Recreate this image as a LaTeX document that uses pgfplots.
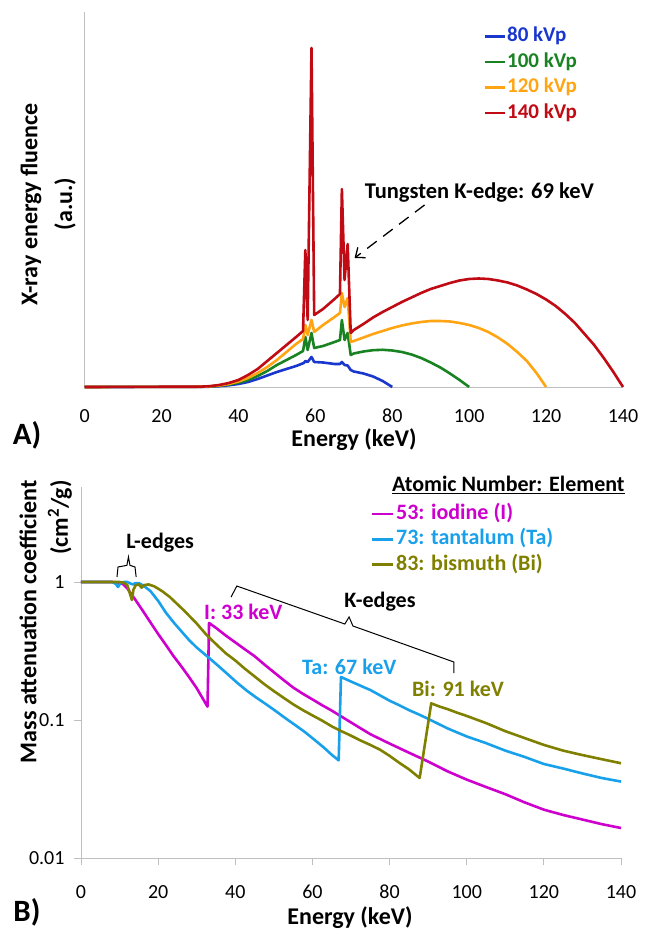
\documentclass[border=0pt]{standalone}
\usepackage{pgfplots}
\pgfplotsset{compat=1.18}
\usepackage{fontspec}
\setmainfont{Carlito}
\usetikzlibrary{arrows.meta}
\definecolor{c80}{RGB}{25,55,205}
\definecolor{c100}{RGB}{25,130,35}
\definecolor{c120}{RGB}{255,165,20}
\definecolor{c140}{RGB}{192,10,20}
\definecolor{cI}{RGB}{205,0,205}
\definecolor{cTa}{RGB}{25,160,235}
\definecolor{cBi}{RGB}{128,128,0}
\definecolor{axgray}{RGB}{191,191,191}
\newcommand{\lab}{\bfseries\fontsize{24}{28}\selectfont}
\newcommand{\ann}{\bfseries\fontsize{22}{26}\selectfont}
\begin{document}
\begin{tikzpicture}[x=1pt,y=1pt]
\useasboundingbox (0,0) rectangle (645,934);
% ---------------- Panel A ----------------
\begin{axis}[
  at={(84.6pt,547pt)}, anchor=south west,
  width=538.4pt, height=375pt, scale only axis,
  xmin=0, xmax=140, ymin=0, ymax=375,
  axis x line*=bottom, axis y line*=left,
  axis line style={axgray, line width=0.8pt},
  xtick={0,20,...,140}, ytick=\empty,
  major tick length=0pt,
  /pgf/number format/assume math mode=true,
  xticklabel style={font=\fontsize{20}{24}\selectfont, anchor=base, yshift=-36pt},
  clip=false,
  every axis plot/.append style={line width=2.6pt, line join=round, mark=none},
  legend style={at={(0.74,0.97)}, anchor=north west, draw=none, fill=none,
    inner sep=0pt, font=\bfseries\fontsize{21}{25}\selectfont,
    nodes={text height=17pt, text depth=6pt, inner sep=1.3pt}, row sep=0pt},
  legend cell align=left,
  legend image code/.code={\draw[#1, line width=2.6pt] (0pt,0pt) -- (20pt,0pt);},
]
\addplot[c80] coordinates {(0,0) (30,0.1) (32.5,0.3) (35,0.8) (37.5,1.7) (40,3) (42.5,5) (45,8) (47.5,11.5) (50,15) (52.5,18) (55,21) (57,24) (57.4,26) (58,25) (59,30) (59.7,25) (62,24.5) (65,23) (66.4,23) (66.9,25) (67.6,22) (68.4,21.5) (69.2,17) (70,15.5) (72.5,13.5) (75,10.5) (77.5,6) (80,0)};
\addlegendentry{\textcolor{c80}{80 kVp}}
\addplot[c100] coordinates {(0,0) (30,0.2) (32.5,0.5) (35,1.2) (37.5,2.5) (40,4.3) (42.5,7) (45,11) (47.5,16) (50,22) (52.5,27) (55,32) (56.8,36) (57.4,50) (58.0,37) (59.0,54) (59.7,39) (62,41) (65,45) (66.4,47) (66.9,67) (67.6,47) (68.4,54) (69.2,32) (70,33.5) (72.5,35.5) (75,36.8) (77.5,37.2) (80,36.5) (82.5,35) (85,32.5) (87.5,29) (90,24.5) (92.5,19.5) (95,13.5) (97.5,7) (100,0)};
\addlegendentry{\textcolor{c100}{100 kVp}}
\addplot[c120] coordinates {(0,0) (30,0.2) (32.5,0.6) (35,1.5) (37.5,3) (40,5.5) (42.5,9) (45,14) (47.5,20) (50,27) (52.5,35) (55,43) (56.8,48) (57.4,62) (58.0,52) (59.0,67) (59.7,55) (62,62) (65,70) (66.4,74) (66.9,94) (67.6,80) (68.4,89) (69.2,45) (70,46) (72.5,49.5) (75,53) (77.5,56) (80,59) (82.5,61.5) (85,63.5) (87.5,65) (90,66) (92.5,66) (95,65.5) (97.5,64) (100,62) (102.5,59) (105,55) (107.5,49.5) (110,43) (112.5,35) (115,26) (117.5,14) (120,0)};
\addlegendentry{\textcolor{c120}{120 kVp}}
\addplot[c140] coordinates {(0,0) (30,0.3) (32.5,0.8) (35,2) (37.5,4) (40,7) (42.5,12) (45,18) (47.5,26) (50,34) (52.5,42) (55,50) (56.8,56) (57.4,137) (58.0,67) (59.0,339) (59.7,72) (62,78) (65,88) (66.4,93) (66.9,198) (67.6,107) (68.4,143) (69.2,54) (70,57) (72.5,63) (75,69.5) (77.5,75) (80,80) (82.5,85) (85,89.5) (87.5,94) (90,98) (92.5,101) (95,104) (97.5,106.5) (100,108) (102.5,108.5) (105,108) (107.5,106.5) (110,104.5) (112.5,101.5) (115,97.5) (117.5,93) (120,87.5) (122.5,81) (125,73) (127.5,64) (130,53) (132.5,42) (135,29) (137.5,15) (140,0)};
\addlegendentry{\textcolor{c140}{140 kVp}}
\node[anchor=west, inner sep=0pt, font=\bfseries\fontsize{22.5}{27}\selectfont] at (axis cs:72.8,194) {Tungsten K-edge: 69 keV};
\draw[line width=1.3pt, dash pattern=on 12pt off 8pt, -{Straight Barb[length=8pt,width=13pt,line width=1.3pt]}] (axis cs:88.4,182) -- (axis cs:70.2,129);
\end{axis}
% ---------------- Panel B ----------------
\begin{axis}[
  at={(81pt,76pt)}, anchor=south west,
  width=540pt, height=371pt, scale only axis,
  xmin=0, xmax=140, ymode=log, ymin=0.01, ymax=4.88,
  axis x line*=bottom, axis y line*=left,
  axis line style={axgray, line width=0.8pt},
  tick style={axgray, line width=0.8pt}, major tick length=7pt, tick align=outside,
  xtick={0,20,...,140}, ytick={0.01,0.1,1}, yticklabels={0.01,0.1,1},
  yminorticks=false,
  /pgf/number format/assume math mode=true,
  xticklabel style={font=\fontsize{20}{24}\selectfont, anchor=base, yshift=-34pt},
  yticklabel style={font=\fontsize{20}{24}\selectfont, anchor=east, xshift=-6pt},
  clip=false,
  every axis plot/.append style={line width=2.6pt, line join=round, mark=none},
  legend style={at={(0.537,0.962)}, anchor=north west, draw=none, fill=none,
    inner sep=0pt, font=\bfseries\fontsize{22}{26}\selectfont,
    nodes={text height=17pt, text depth=5.5pt, inner sep=1.4pt}, row sep=0pt},
  legend cell align=left,
  legend image code/.code={\draw[#1, line width=2.6pt] (0pt,0pt) -- (21pt,0pt);},
]
\addplot[cI] coordinates {(0,1) (4,1) (8,1) (10,0.99) (11,0.96) (12,0.9) (13,0.82) (14,0.75) (16,0.62) (18,0.51) (20,0.42) (22,0.35) (24,0.29) (26,0.245) (28,0.205) (30,0.17) (32.8,0.125) (33.2,0.505) (35,0.465) (37.5,0.41) (40,0.365) (42.5,0.325) (45,0.29) (47.5,0.253) (50,0.222) (52.5,0.195) (55,0.172) (57.5,0.155) (60,0.141) (62.5,0.128) (65,0.117) (67.5,0.106) (70,0.096) (72.5,0.087) (75,0.079) (77.5,0.073) (80,0.0675) (85,0.058) (90,0.05) (95,0.0425) (100,0.037) (105,0.0327) (110,0.029) (115,0.0253) (120,0.0224) (125,0.0205) (130,0.019) (135,0.0176) (140,0.0165)};
\addlegendentry{\textcolor{cI}{53: iodine (I)}}
\addplot[cTa] coordinates {(0,1) (8,1) (9,0.97) (9.6,0.92) (10,0.96) (10.5,0.99) (11.2,1.0) (12,1.0) (13,0.97) (13.5,0.96) (14,0.98) (15,0.98) (16,0.95) (18,0.86) (20,0.73) (22,0.6) (24,0.51) (26,0.44) (28,0.38) (30,0.335) (33,0.285) (35.5,0.248) (38,0.215) (40.5,0.186) (43,0.163) (45.5,0.145) (48,0.13) (50.5,0.116) (53,0.103) (55.5,0.092) (58,0.082) (60.5,0.072) (63,0.063) (65,0.056) (66.8,0.051) (67.4,0.205) (70,0.19) (72.5,0.177) (75,0.165) (77.5,0.151) (80,0.138) (82.5,0.128) (85,0.118) (87.5,0.11) (90,0.102) (95,0.087) (100,0.076) (105,0.068) (110,0.06) (115,0.054) (120,0.048) (125,0.0445) (130,0.041) (135,0.038) (140,0.0358)};
\addlegendentry{\textcolor{cTa}{73: tantalum (Ta)}}
\addplot[cBi] coordinates {(0,1) (10,1) (11,0.99) (12,0.95) (13.2,0.74) (13.6,0.88) (14.2,0.95) (15,0.96) (15.7,0.91) (16.4,0.95) (17.5,0.96) (19,0.93) (21,0.86) (23,0.78) (25,0.69) (27,0.61) (30,0.5) (32.5,0.415) (35,0.355) (37.5,0.305) (40,0.27) (42.5,0.235) (45,0.207) (47.5,0.182) (50,0.162) (52.5,0.145) (55,0.13) (57.5,0.118) (60,0.108) (62.5,0.099) (65,0.09) (67.5,0.083) (70,0.077) (72.5,0.071) (75,0.066) (77.5,0.061) (80,0.055) (82.5,0.049) (85,0.044) (87.8,0.038) (90.8,0.132) (93,0.125) (95,0.12) (97.5,0.113) (100,0.107) (105,0.095) (110,0.083) (115,0.074) (120,0.066) (125,0.06) (130,0.0557) (135,0.052) (140,0.0486)};
\addlegendentry{\textcolor{cBi}{83: bismuth (Bi)}}
\node[font=\ann, inner sep=0pt] at (axis cs:20.5,1.917) {L-edges};
\draw[line width=1pt] (axis cs:9.33,1.087) -- (axis cs:9.6,1.285) -- (axis cs:11.9,1.32) -- (axis cs:12.3,1.52) -- (axis cs:12.7,1.32) -- (axis cs:14.0,1.285) -- (axis cs:14.3,1.087);
\draw[line width=1pt] (axis cs:38.9,0.778) -- (axis cs:40.4,0.935) -- (axis cs:68.4,0.496) -- (axis cs:69.5,0.558) -- (axis cs:70.5,0.480) -- (axis cs:96.7,0.263) -- (axis cs:96.7,0.219);
\node[font=\ann, inner sep=0pt] at (axis cs:77.5,0.716) {K-edges};
\node[anchor=west, font=\ann, inner sep=0pt, text=cI] at (axis cs:31.9,0.606) {I: 33 keV};
\node[anchor=west, font=\ann, inner sep=0pt, text=cTa] at (axis cs:57.3,0.242) {Ta: 67 keV};
\node[anchor=west, font=\ann, inner sep=0pt, text=cBi] at (axis cs:85.8,0.168) {Bi: 91 keV};
\end{axis}
% ---------------- outer labels ----------------
\node[rotate=90, font=\lab, inner sep=0pt] at (31,729.5) {X-ray energy fluence};
\node[rotate=90, font=\lab, inner sep=0pt] at (65,730) {(a.u.)};
\node[font=\lab, inner sep=0pt] at (354,494) {Energy (keV)};
\node[font=\bfseries\fontsize{31}{36}\selectfont, inner sep=0pt] at (27,499) {A)};
\node[rotate=90, anchor=east, font=\lab, inner sep=0pt] at (28,454) {Mass attenuation coefficient};
\node[rotate=90, anchor=east, font=\lab, inner sep=0pt] at (60,454) {(cm\textsuperscript{2}/g)};
\node[font=\lab, inner sep=0pt] at (350,16) {Energy (keV)};
\node[font=\bfseries\fontsize{31}{36}\selectfont, inner sep=0pt] at (27,22) {B)};
\node[anchor=base west, font=\ann, inner sep=0pt] at (392,442) {\underline{Atomic Number: Element}};
\end{tikzpicture}
\end{document}
